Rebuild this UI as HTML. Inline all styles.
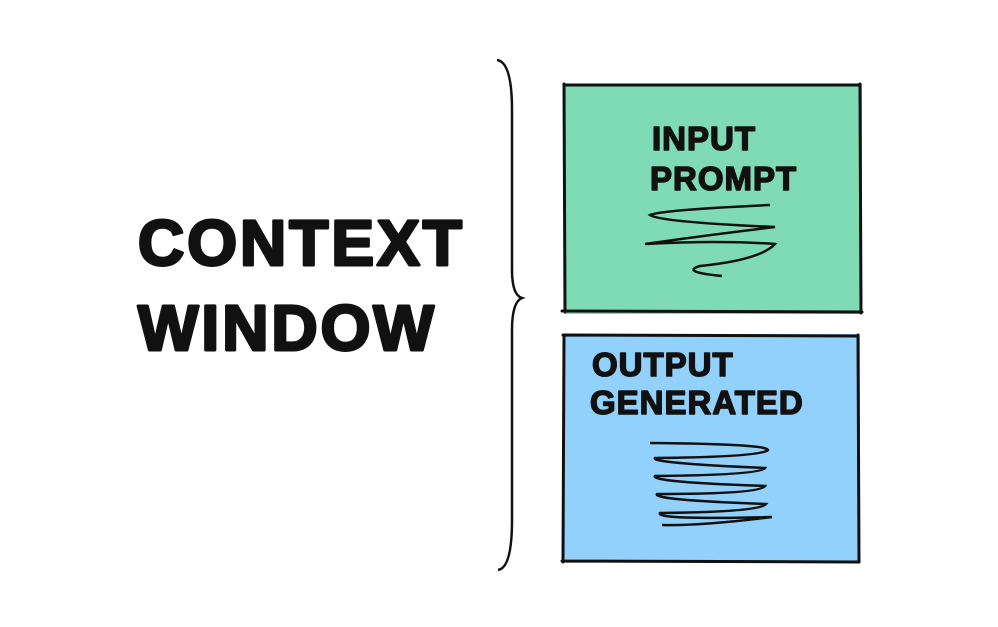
<!DOCTYPE html>
<html><head><meta charset="utf-8"><style>
html,body{margin:0;padding:0;background:#fff;width:998px;height:627px;overflow:hidden}
svg text{font-family:"Liberation Sans",sans-serif;font-weight:bold;fill:#111;stroke:#111;stroke-linejoin:round}
</style></head><body>
<svg width="998" height="627" viewBox="0 0 998 627" xmlns="http://www.w3.org/2000/svg">
<rect x="564" y="84" width="298" height="230" fill="#7fdbb5"/>
<path d="M565 85 L860 85 M564 84 L565 312 M562 311 L862 312 M860 84 L861 313" stroke="#111" stroke-width="3" fill="none" stroke-linecap="round"/>
<rect x="564" y="334" width="296" height="228" fill="#92d1fb"/>
<path d="M563 335 L858 336 M564 335 L563 562 M562 561 L858 562 M858 335 L859 562" stroke="#111" stroke-width="3" fill="none" stroke-linecap="round"/>
<text x="652" y="150" font-size="33" stroke-width="1.5" letter-spacing="1">INPUT</text>
<text x="650" y="190" font-size="33" stroke-width="1.5" letter-spacing="1">PROMPT</text>
<path d="M770 205 Q660 210 650 215 Q660 222 775 227 Q700 236 645 244 Q720 240 775 244 Q760 260 700 266 Q680 272 722 276" stroke="#111" stroke-width="2.5" fill="none"/>
<text x="592" y="376" font-size="33" stroke-width="1.5" letter-spacing="1">OUTPUT</text>
<text x="590" y="414" font-size="33" stroke-width="1.5" letter-spacing="1">GENERATED</text>
<path d="M650 443 Q768 444 768 450 Q760 457 655 458 Q650 463 765 468 Q760 475 655 476 Q650 482 765 486 Q760 494 657 494 Q652 500 766 504 Q760 512 660 513 Q655 520 772 517 Q700 526 662 525" stroke="#111" stroke-width="2.5" fill="none"/>
<text x="138" y="265" font-size="64" stroke-width="3" letter-spacing="3">CONTEXT</text>
<text x="138" y="350" font-size="64" stroke-width="3" letter-spacing="3">WINDOW</text>
<path d="M497 60 Q512 62 512 110 L512 270 Q512 295 522 298 Q512 302 512 330 L512 520 Q512 568 498 570" stroke="#111" stroke-width="2.5" fill="none"/>
</svg>
</body></html>
